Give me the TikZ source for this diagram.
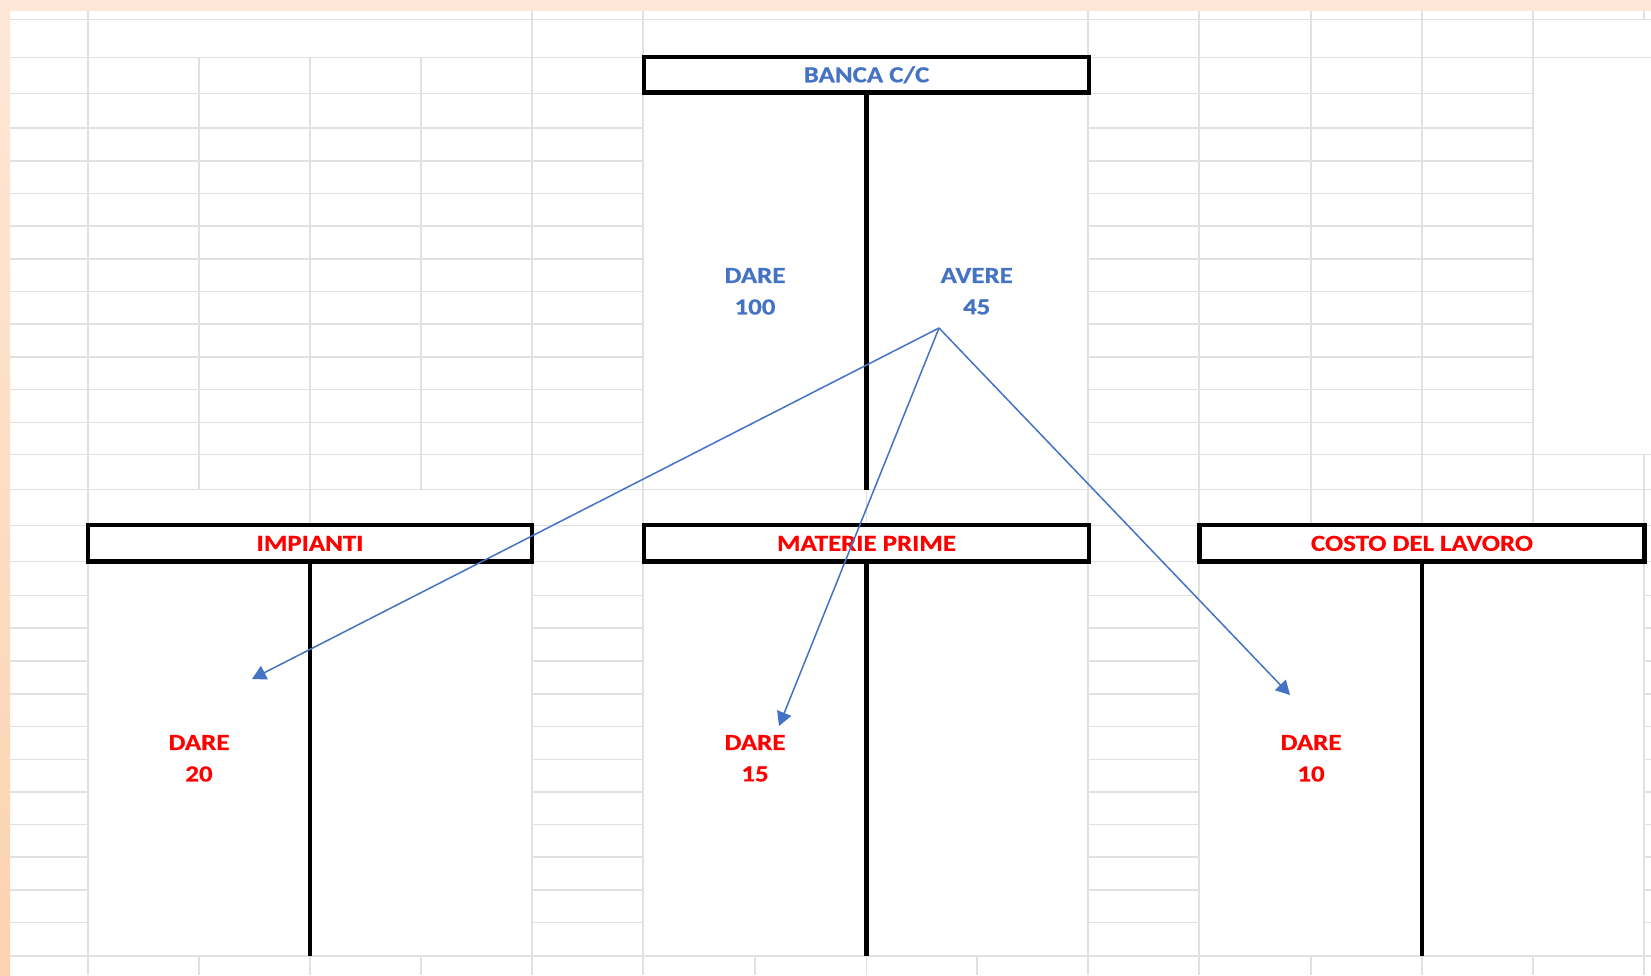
\documentclass[tikz,border=0pt]{standalone}
\usepackage{fontspec}
\setmainfont{Carlito}[FakeStretch=1.17,FakeBold=0.5]
\usetikzlibrary{arrows.meta}
\definecolor{gridc}{RGB}{225,225,225}
\definecolor{xblue}{RGB}{68,114,196}
\definecolor{xred}{RGB}{255,0,0}
\definecolor{peachT}{RGB}{254,231,214}
\definecolor{peachB}{RGB}{251,211,176}
\begin{document}
\begin{tikzpicture}[x=1pt,y=-1pt,
  gridline/.style={draw=gridc,line width=1.6pt},
  header/.style={draw=black,line width=4.2pt,fill=white,inner sep=0pt,font=\fontsize{23}{27}\selectfont\bfseries},
  tline/.style={draw=black,line width=4.2pt},
  amount/.style={font=\fontsize{23}{27}\selectfont\bfseries,inner sep=0pt},
  flow/.style={draw=xblue,line width=1.5pt,-{Triangle[length=14pt,width=15pt]}}]
\useasboundingbox (0,0) rectangle (1651,975);
\fill[white] (0,0) rectangle (1651,975);
\fill[peachT] (0,0) rectangle (1651,11);
\shade[top color=peachT,bottom color=peachB] (0,11) rectangle (10,975);
% horizontal grid
\foreach \y in {19.5,57.5,489.3,525.3,561.5,955.7}
  \draw[gridline] (10,\y) -- (1651,\y);
\foreach \y in {93.3,128,160.7,193.4,226.1,258.8,291.5,324.2,356.9,389.6,422.3}
  {\draw[gridline] (10,\y) -- (643,\y);
   \draw[gridline] (1088,\y) -- (1533,\y);}
\draw[gridline] (10,454.5) -- (643,454.5);
\draw[gridline] (1088,454.5) -- (1651,454.5);
\foreach \y in {595.3,628.1,660.9,693.7,726.5,759.3,792,824.6,857.2,889.8,922.5}
  {\draw[gridline] (10,\y) -- (88,\y);
   \draw[gridline] (532,\y) -- (643,\y);
   \draw[gridline] (1088,\y) -- (1199,\y);
   \draw[gridline] (1644,\y) -- (1651,\y);}
% vertical grid
\foreach \x in {88,532,643,1088,1199}
  \draw[gridline] (\x,11) -- (\x,975);
\foreach \x in {199,310,421}
  {\draw[gridline] (\x,57.5) -- (\x,489.3);
   \draw[gridline] (\x,955.7) -- (\x,975);}
\draw[gridline] (310,489.3) -- (310,525.3);
\draw[gridline] (866.5,489.3) -- (866.5,525.3);
\foreach \x in {755,866.5,977}
  \draw[gridline] (\x,955.7) -- (\x,975);
\foreach \x in {1311,1422,1533}
  {\draw[gridline] (\x,11) -- (\x,525.3);
   \draw[gridline] (\x,955.7) -- (\x,975);}
\draw[gridline] (1644,11) -- (1644,19.5);
\draw[gridline] (1644,454.5) -- (1644,975);
% headers
\node[header,text=xblue,minimum width=445pt,minimum height=35.5pt] (banca) at (866.5,74.75) {\raisebox{-2.4pt}{BANCA C/C}};
\node[header,text=xred,minimum width=444pt,minimum height=36.2pt] (impianti) at (310,543.4) {\raisebox{-2.2pt}{IMPIANTI}};
\node[header,text=xred,minimum width=445pt,minimum height=36.2pt] (materie) at (866.5,543.4) {\raisebox{-2.2pt}{MATERIE PRIME}};
\node[header,text=xred,minimum width=445pt,minimum height=36.2pt] (costo) at (1422,543.4) {\raisebox{-2.2pt}{COSTO DEL LAVORO}};
% T lines
\coordinate (bancaEnd) at (866.5,489.5);
\coordinate (impEnd) at (310,956);
\coordinate (matEnd) at (866.5,956);
\coordinate (cosEnd) at (1422,956);
\draw[tline] (banca.south) -- (bancaEnd);
\draw[tline] (impianti.south) -- (impEnd);
\draw[tline] (materie.south) -- (matEnd);
\draw[tline] (costo.south) -- (cosEnd);
% amounts
\node[amount,text=xblue] (bdare) at (755,275.5) {DARE};
\node[amount,text=xblue] (bdarev) at (755,307) {100};
\node[amount,text=xblue] (bavere) at (976.7,275.5) {AVERE};
\node[amount,text=xblue] (baverev) at (976.7,307) {45};
\node[amount,text=xred] (idare) at (199,742.5) {DARE};
\node[amount,text=xred] (idarev) at (199,774) {20};
\node[amount,text=xred] (mdare) at (755,742.5) {DARE};
\node[amount,text=xred] (mdarev) at (755,774) {15};
\node[amount,text=xred] (cdare) at (1311,742.5) {DARE};
\node[amount,text=xred] (cdarev) at (1311,774) {10};
% arrows
\coordinate (src) at (939,328);
\coordinate (tipI) at (252,679);
\coordinate (tipM) at (779,726);
\coordinate (tipC) at (1290,695);
\draw[flow] (src) -- (tipI);
\draw[flow] (src) -- (tipM);
\draw[flow] (src) -- (tipC);
\end{tikzpicture}
\end{document}
